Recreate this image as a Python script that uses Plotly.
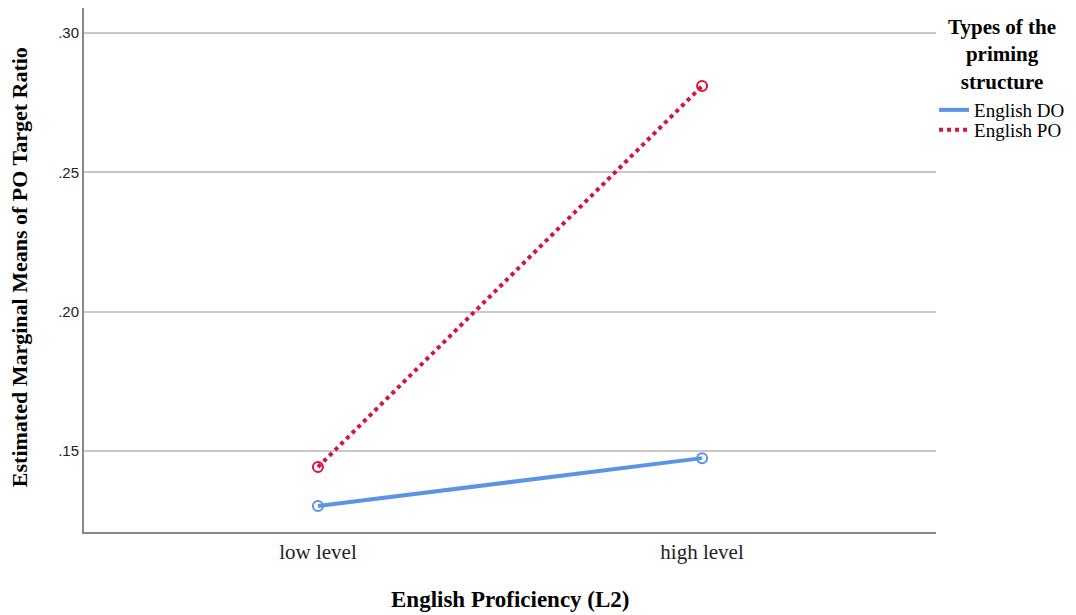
import plotly.graph_objects as go

categories = ["low level", "high level"]
do_values = [0.1303, 0.1475]
po_values = [0.1443, 0.2810]
y_ticks = [0.15, 0.20, 0.25, 0.30]
y_tick_labels = [".15", ".20", ".25", ".30"]
legend_title = "Types of the<br>priming<br>structure"

serif = "Liberation Serif, Times New Roman, serif"
sans = "Liberation Sans, Arial, sans-serif"
blue = "#5b94e2"
red = "#d6153e"

fig = go.Figure()
fig.add_trace(go.Scatter(
    x=[0, 1], y=do_values, name="English DO", mode="lines+markers", showlegend=False,
    line=dict(color=blue, width=4),
    marker=dict(symbol="circle-open", size=10, color=blue, line=dict(width=2)),
))
fig.add_trace(go.Scatter(
    x=[0, 1], y=po_values, name="English PO", mode="lines+markers", showlegend=False,
    line=dict(color=red, width=4, dash="dot"),
    marker=dict(symbol="circle-open", size=10, color=red, line=dict(width=2)),
))
# legend-only entries (line swatch without marker)
fig.add_trace(go.Scatter(x=[None], y=[None], name="English DO", mode="lines",
                         line=dict(color=blue, width=4), legend="legend"))
fig.add_trace(go.Scatter(x=[None], y=[None], name="English PO", mode="lines",
                         line=dict(color=red, width=4, dash="dot"), legend="legend2"))

leg_common = dict(xanchor="left", yanchor="middle", font=dict(family=serif, size=19),
                  itemwidth=30, bgcolor="rgba(0,0,0,0)", borderwidth=0)

annotations = [
    dict(text=f"<b>{legend_title}</b>", xref="paper", yref="paper", x=1.0775, y=0.99,
         xanchor="center", yanchor="top", align="center", showarrow=False,
         font=dict(family=serif, size=21)),
    dict(text="<b>English Proficiency (L2)</b>", xref="paper", yref="paper",
         x=0.5, y=-0.128, xanchor="center", yanchor="middle",
         showarrow=False, font=dict(family=serif, size=23)),
    dict(text="<b>Estimated Marginal Means of PO Target Ratio</b>", xref="paper", yref="paper",
         x=-0.0748, y=0.506, xanchor="center", yanchor="middle", textangle=-90,
         showarrow=False, font=dict(family=serif, size=22)),
]

fig.update_layout(
    width=1068, height=607,
    margin=dict(l=76, r=140, t=0, b=83, pad=0),
    paper_bgcolor="white", plot_bgcolor="white",
    font=dict(family=serif, color="black"),
    xaxis=dict(
        range=[-0.609, 1.609], tickmode="array", tickvals=[0, 1], ticktext=categories,
        showgrid=False, zeroline=False, showline=True, linecolor="#888888", linewidth=2,
        ticks="", tickfont=dict(family=serif, size=21, color="#222"), automargin=False,
    ),
    yaxis=dict(
        range=[0.121, 0.309], tickmode="array", tickvals=y_ticks, ticktext=y_tick_labels,
        showgrid=True, gridcolor="#c8c8c8", gridwidth=2, zeroline=False,
        showline=True, linecolor="#888888", linewidth=2, ticks="",
        tickfont=dict(family=sans, size=15, color="#222"), automargin=False,
    ),
    legend=dict(x=0.9977, y=0.8053, **leg_common),
    legend2=dict(x=0.9977, y=0.7672, **leg_common),
    showlegend=True,
    annotations=annotations,
)

fig.write_html("out.html")
